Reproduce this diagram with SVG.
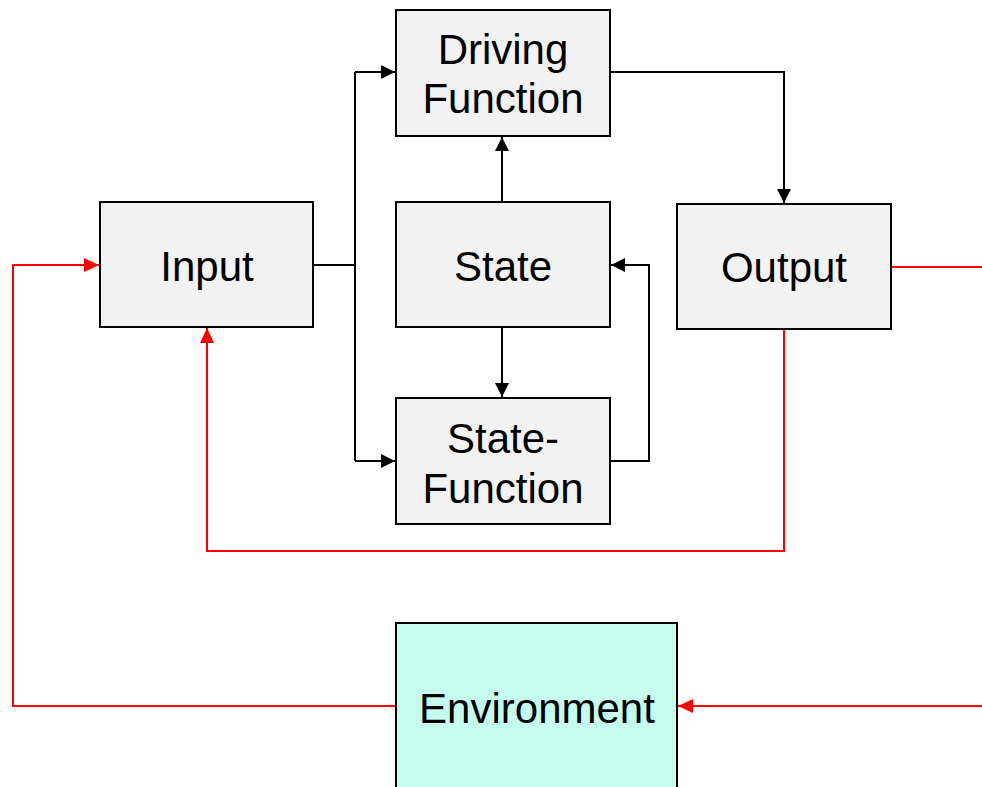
<svg xmlns="http://www.w3.org/2000/svg" width="982" height="787" viewBox="0 0 982 787">
  <style>
    .box { fill: #f2f2f2; stroke: #000; stroke-width: 2; }
    .env { fill: #c4fcee; stroke: #000; stroke-width: 2; }
    .lbl { font-family: "Liberation Sans", Arial, sans-serif; font-size: 42px; fill: #000; text-anchor: middle; }
    .blk { fill: none; stroke: #000; stroke-width: 2; }
    .red { fill: none; stroke: #ff0000; stroke-width: 2; }
  </style>
  <defs>
    <marker id="arrowBlack" viewBox="0 0 14 14" refX="14" refY="7" markerWidth="14" markerHeight="14" markerUnits="userSpaceOnUse" orient="auto">
      <path d="M0,0 L14,7 L0,14 Z" fill="#000"/>
    </marker>
    <marker id="arrowRed" viewBox="0 0 15 14" refX="15" refY="7" markerWidth="15" markerHeight="14" markerUnits="userSpaceOnUse" orient="auto">
      <path d="M0,0 L15,7 L0,14 Z" fill="#ff0000"/>
    </marker>
  </defs>

  <rect width="982" height="787" fill="#fff"/>

  <g id="connectors">
    <!-- Input fans out to Driving Function and State-Function -->
    <path class="blk" d="M313,265 H355"/>
    <path class="blk" d="M355,72 V461"/>
    <path class="blk" d="M355,72 H395" marker-end="url(#arrowBlack)"/>
    <path class="blk" d="M355,461 H395" marker-end="url(#arrowBlack)"/>
    <!-- Driving Function to Output -->
    <path class="blk" d="M610,72 H784 V203" marker-end="url(#arrowBlack)"/>
    <!-- State to Driving Function -->
    <path class="blk" d="M502,202 V137" marker-end="url(#arrowBlack)"/>
    <!-- State to State-Function -->
    <path class="blk" d="M502,327 V397" marker-end="url(#arrowBlack)"/>
    <!-- State-Function back to State -->
    <path class="blk" d="M610,461 H649 V265 H611" marker-end="url(#arrowBlack)"/>
    <!-- Output to the outside -->
    <path class="red" d="M891,267 H982"/>
    <!-- Output feedback to Input -->
    <path class="red" d="M784,329 V551 H207 V328" marker-end="url(#arrowRed)"/>
    <!-- Outside into Environment -->
    <path class="red" d="M982,706 H678" marker-end="url(#arrowRed)"/>
    <!-- Environment to Input -->
    <path class="red" d="M396,706 H13 V265 H99" marker-end="url(#arrowRed)"/>
  </g>

  <g id="driving-function">
    <rect class="box" x="396" y="10" width="214" height="126"/>
    <text class="lbl" x="503" y="64">Driving</text>
    <text class="lbl" x="503" y="113">Function</text>
  </g>

  <g id="input">
    <rect class="box" x="100" y="202" width="213" height="125"/>
    <text class="lbl" x="207" y="281">Input</text>
  </g>

  <g id="state">
    <rect class="box" x="396" y="202" width="214" height="125"/>
    <text class="lbl" x="503" y="281">State</text>
  </g>

  <g id="output">
    <rect class="box" x="677" y="204" width="214" height="125"/>
    <text class="lbl" x="784" y="282">Output</text>
  </g>

  <g id="state-function">
    <rect class="box" x="396" y="398" width="214" height="126"/>
    <text class="lbl" x="503" y="453">State-</text>
    <text class="lbl" x="503" y="503">Function</text>
  </g>

  <g id="environment">
    <rect class="env" x="396" y="623" width="281" height="180"/>
    <text class="lbl" x="537" y="723">Environment</text>
  </g>
</svg>
